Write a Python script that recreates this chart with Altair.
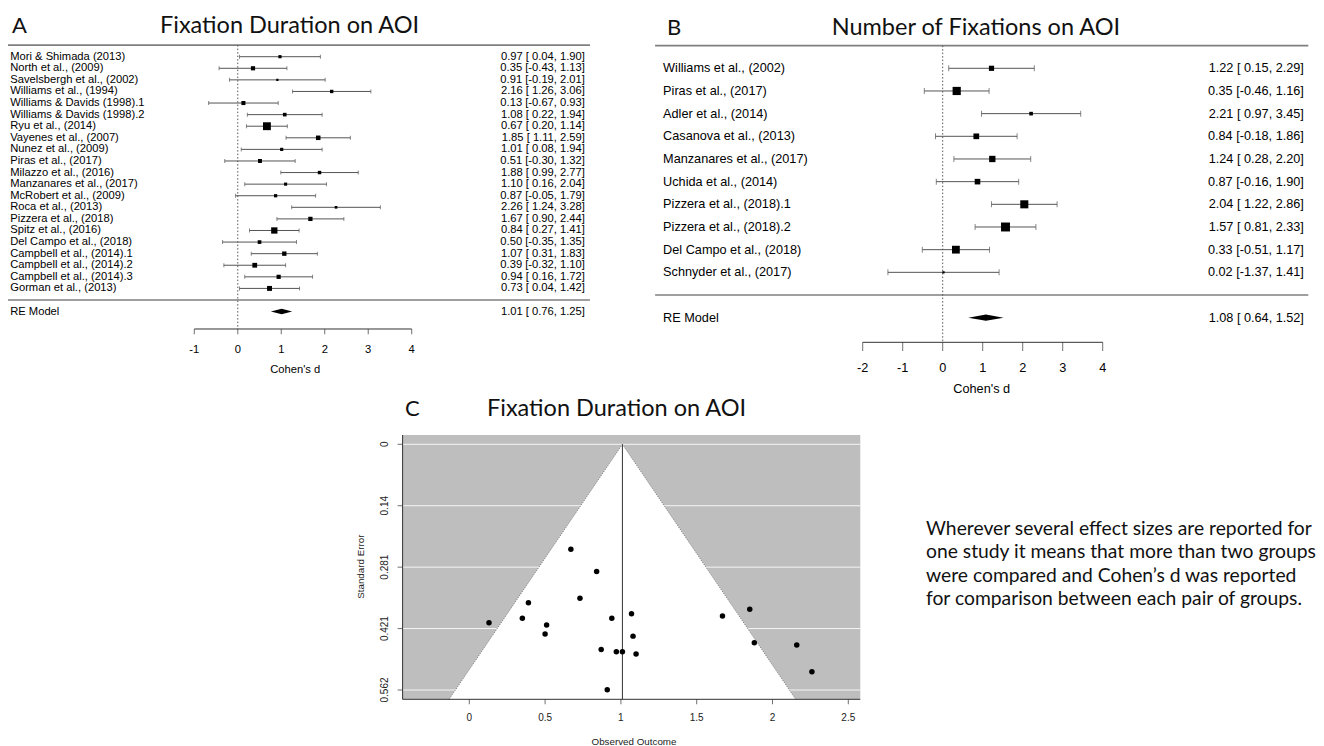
import altair as alt
import pandas as pd

SANS = "Liberation Sans"
DISP = "Lato"

# ---------------- Panel A: Fixation Duration on AOI (forest plot) ----------------
a_study = [
    "Mori & Shimada (2013)", "North et al., (2009)", "Savelsbergh et al., (2002)",
    "Williams et al., (1994)", "Williams & Davids (1998).1", "Williams & Davids (1998).2",
    "Ryu et al., (2014)", "Vayenes et al., (2007)", "Nunez et al., (2009)",
    "Piras et al., (2017)", "Milazzo et al., (2016)", "Manzanares et al., (2017)",
    "McRobert et al., (2009)", "Roca et al., (2013)", "Pizzera et al., (2018)",
    "Spitz et al., (2016)", "Del Campo et al., (2018)", "Campbell et al., (2014).1",
    "Campbell et al., (2014).2", "Campbell et al., (2014).3", "Gorman et al., (2013)",
]
a_est = [0.97, 0.35, 0.91, 2.16, 0.13, 1.08, 0.67, 1.85, 1.01, 0.51, 1.88,
         1.10, 0.87, 2.26, 1.67, 0.84, 0.50, 1.07, 0.39, 0.94, 0.73]
a_lo = [0.04, -0.43, -0.19, 1.26, -0.67, 0.22, 0.20, 1.11, 0.08, -0.30, 0.99,
        0.16, -0.05, 1.24, 0.90, 0.27, -0.35, 0.31, -0.32, 0.16, 0.04]
a_hi = [1.90, 1.13, 2.01, 3.06, 0.93, 1.94, 1.14, 2.59, 1.94, 1.32, 2.77,
        2.04, 1.79, 3.28, 2.44, 1.41, 1.35, 1.83, 1.10, 1.72, 1.42]
a_summary = [1.01, 0.76, 1.25]  # RE model: estimate, lower, upper
a_ticks = [-1, 0, 1, 2, 3, 4]

# ---------------- Panel B: Number of Fixations on AOI (forest plot) ----------------
b_study = [
    "Williams et al., (2002)", "Piras et al., (2017)", "Adler et al., (2014)",
    "Casanova et al., (2013)", "Manzanares et al., (2017)", "Uchida et al., (2014)",
    "Pizzera et al., (2018).1", "Pizzera et al., (2018).2", "Del Campo et al., (2018)",
    "Schnyder et al., (2017)",
]
b_est = [1.22, 0.35, 2.21, 0.84, 1.24, 0.87, 2.04, 1.57, 0.33, 0.02]
b_lo = [0.15, -0.46, 0.97, -0.18, 0.28, -0.16, 1.22, 0.81, -0.51, -1.37]
b_hi = [2.29, 1.16, 3.45, 1.86, 2.20, 1.90, 2.86, 2.33, 1.17, 1.41]
b_summary = [1.08, 0.64, 1.52]
b_ticks = [-2, -1, 0, 1, 2, 3, 4]

# ---------------- Panel C: funnel plot of panel A ----------------
c_xticks = [0, 0.5, 1, 1.5, 2, 2.5]
c_xlabels = ["0", "0.5", "1", "1.5", "2", "2.5"]
c_yticks = [0, 0.1405, 0.281, 0.4215, 0.562]
c_ylabels = ["0", "0.14", "0.281", "0.421", "0.562"]

note_lines = [
    "Wherever several effect sizes are reported for",
    "one study it means that more than two groups",
    "were compared and Cohen\u2019s d was reported",
    "for comparison between each pair of groups.",
]

# ---------------- scales (panel placement) ----------------
def lin(domain, rng):
    return alt.Scale(domain=domain, range=rng, nice=False, zero=False)

SXA = lin([-1, 4], [186.3, 403.7])
SYA = lin([0, 21], [292.0, 48.7])
SXB = lin([-2, 4], [854.7, 1094.7])
SYB = lin([0, 10], [287.0, 60.3])
SXC = lin([0, 2.5], [461.3, 840.3])
SYC = lin([0, 0.562], [436.3, 682.0])

P_A = dict(sx=SXA, sy=SYA, xlim=(-5.46, 8.10), label_x=-5.234, ann_x=7.984,
           axis_row=-2.503, tl=5.3, lab_dy=21, xlab_dy=41, fs=11.2, cap=4,
           dh=0.24, sizes=(5, 62))
P_B = dict(sx=SXB, sy=SYB, xlim=(-7.19, 9.14), label_x=-6.99, ann_x=9.03,
           axis_row=-2.087, tl=8.7, lab_dy=25.4, xlab_dy=46.7, fs=12.7, cap=6,
           dh=0.14, sizes=(5, 80))


def fmt(e, l, h):
    return f"{e:.2f} [{l:5.2f}, {h:.2f}]"


def forest_layers(study, est, lo, hi, summ, ticks, P):
    k = len(study)
    sx, sy = P["sx"], P["sy"]
    X = lambda f: alt.X(f, type="quantitative", scale=sx, axis=None)
    Y = lambda f: alt.Y(f, type="quantitative", scale=sy, axis=None)
    fs = P["fs"]
    ar = P["axis_row"]
    df = pd.DataFrame({"study": study, "est": est, "lo": lo, "hi": hi})
    df["row"] = list(range(k, 0, -1))
    df["w"] = (3.92 / (df["hi"] - df["lo"])) ** 2
    df["ann"] = [fmt(e, l, h) for e, l, h in zip(est, lo, hi)]
    df["lx"] = P["label_x"]
    df["ax"] = P["ann_x"]
    L = []
    hl = pd.DataFrame({"x": [P["xlim"][0]] * 2, "x2": [P["xlim"][1]] * 2, "y": [k + 1, 0]})
    L.append(alt.Chart(hl).mark_rule(color="#7f7f7f", strokeWidth=1.6)
             .encode(x=X("x"), x2="x2", y=Y("y")))
    ref = pd.DataFrame({"x": [0], "y": [k + 1], "y2": [ar]})
    L.append(alt.Chart(ref).mark_rule(color="#555555", strokeWidth=1, strokeDash=[1.5, 2])
             .encode(x=X("x"), y=Y("y"), y2="y2"))
    L.append(alt.Chart(df).mark_rule(color="#555555", strokeWidth=1)
             .encode(x=X("lo"), x2="hi", y=Y("row")))
    L.append(alt.Chart(df).transform_fold(["lo", "hi"], as_=["end", "v"])
             .mark_tick(orient="vertical", size=P["cap"], thickness=1, color="#555555")
             .encode(x=X("v"), y=Y("row")))
    L.append(alt.Chart(df).mark_square(color="black", opacity=1)
             .encode(x=X("est"), y=Y("row"),
                     size=alt.Size("w", type="quantitative",
                                   scale=alt.Scale(domain=[float(df["w"].min()), float(df["w"].max())],
                                                   range=list(P["sizes"])),
                                   legend=None)))
    L.append(alt.Chart(df).mark_text(align="left", baseline="middle", fontSize=fs, font=SANS, color="black")
             .encode(x=X("lx"), y=Y("row"), text="study"))
    L.append(alt.Chart(df).mark_text(align="right", baseline="middle", fontSize=fs, font=SANS, color="black")
             .encode(x=X("ax"), y=Y("row"), text="ann"))
    e, l, h = summ
    re = pd.DataFrame({"lab": ["RE Model"], "ann": [fmt(e, l, h)], "lx": [P["label_x"]],
                       "ax": [P["ann_x"]], "row": [-1]})
    L.append(alt.Chart(re).mark_text(align="left", baseline="middle", fontSize=fs, font=SANS, color="black")
             .encode(x=X("lx"), y=Y("row"), text="lab"))
    L.append(alt.Chart(re).mark_text(align="right", baseline="middle", fontSize=fs, font=SANS, color="black")
             .encode(x=X("ax"), y=Y("row"), text="ann"))
    dh = P["dh"]
    dm = pd.DataFrame({"x": [l, e, h], "y": [-1, -1 + dh, -1], "y2": [-1, -1 - dh, -1]})
    L.append(alt.Chart(dm).mark_area(color="black", orient="vertical", opacity=1)
             .encode(x=X("x"), y=Y("y"), y2="y2"))
    axl = pd.DataFrame({"x": [min(ticks)], "x2": [max(ticks)], "y": [ar]})
    L.append(alt.Chart(axl).mark_rule(color="#333333", strokeWidth=1)
             .encode(x=X("x"), x2="x2", y=Y("y")))
    tk = pd.DataFrame({"t": ticks, "lab": [str(t) for t in ticks], "y": [ar] * len(ticks)})
    L.append(alt.Chart(tk).mark_tick(orient="vertical", size=P["tl"], thickness=1, color="#333333",
                                     yOffset=P["tl"] / 2)
             .encode(x=X("t"), y=Y("y")))
    L.append(alt.Chart(tk).mark_text(baseline="middle", align="center", fontSize=fs, font=SANS,
                                     color="black", dy=P["lab_dy"])
             .encode(x=X("t"), y=Y("y"), text="lab"))
    xlab = pd.DataFrame({"t": ["Cohen's d"], "x": [sum(P["xlim"]) / 2], "y": [ar]})
    L.append(alt.Chart(xlab).mark_text(baseline="middle", align="center", fontSize=fs, font=SANS,
                                       color="black", dy=P["xlab_dy"])
             .encode(x=X("x"), y=Y("y"), text="t"))
    return L


def funnel_layers():
    X = lambda f: alt.X(f, type="quantitative", scale=SXC, axis=None)
    Y = lambda f: alt.Y(f, type="quantitative", scale=SYC, axis=None)
    xl, xr = -0.44, 2.579
    yt, yb = -0.0213, 0.5833
    est_c = a_summary[0]
    L = []
    bg = pd.DataFrame({"x": [xl], "x2": [xr], "y": [yt], "y2": [yb]})
    L.append(alt.Chart(bg).mark_rect(color="#BEBEBE", opacity=1)
             .encode(x=X("x"), x2="x2", y=Y("y"), y2="y2"))
    gr = pd.DataFrame({"y": c_yticks, "x": [xl] * len(c_yticks), "x2": [xr] * len(c_yticks)})
    L.append(alt.Chart(gr).mark_rule(color="white", strokeWidth=1, opacity=0.85)
             .encode(x=X("x"), x2="x2", y=Y("y")))
    tri = pd.DataFrame({"se": [0, yb]})
    tri["lo"] = est_c - 1.96 * tri["se"]
    tri["hi"] = est_c + 1.96 * tri["se"]
    L.append(alt.Chart(tri).mark_area(color="white", orient="horizontal", opacity=1)
             .encode(y=Y("se"), x=X("lo"), x2="hi"))
    edges = pd.DataFrame({"side": ["l", "l", "r", "r"],
                          "x": [est_c, est_c - 1.96 * yb, est_c, est_c + 1.96 * yb],
                          "se": [0, yb, 0, yb]})
    L.append(alt.Chart(edges).mark_line(color="#666666", strokeWidth=0.9, strokeDash=[1, 1.5])
             .encode(x=X("x"), y=Y("se"), detail="side"))
    vl = pd.DataFrame({"x": [est_c], "y": [0], "y2": [yb]})
    L.append(alt.Chart(vl).mark_rule(color="#333333", strokeWidth=1)
             .encode(x=X("x"), y=Y("y"), y2="y2"))
    pts = pd.DataFrame({"est": a_est, "lo": a_lo, "hi": a_hi})
    pts["se"] = (pts["hi"] - pts["lo"]) / 3.92
    L.append(alt.Chart(pts).mark_circle(color="black", opacity=1, size=30)
             .encode(x=X("est"), y=Y("se")))
    # axes (L-shaped frame)
    L.append(alt.Chart(pd.DataFrame({"x": [xl], "y": [yt], "y2": [yb]}))
             .mark_rule(color="#333333", strokeWidth=1).encode(x=X("x"), y=Y("y"), y2="y2"))
    L.append(alt.Chart(pd.DataFrame({"x": [xl], "x2": [xr], "y": [yb]}))
             .mark_rule(color="#333333", strokeWidth=1).encode(x=X("x"), x2="x2", y=Y("y")))
    xt = pd.DataFrame({"t": c_xticks, "lab": c_xlabels, "y": [yb] * len(c_xticks)})
    L.append(alt.Chart(xt).mark_tick(orient="vertical", size=5, thickness=1, color="#333333", yOffset=2.5)
             .encode(x=X("t"), y=Y("y")))
    L.append(alt.Chart(xt).mark_text(baseline="middle", align="center", fontSize=10, font=SANS,
                                     color="#222222", dy=19)
             .encode(x=X("t"), y=Y("y"), text="lab"))
    yt_df = pd.DataFrame({"t": c_yticks, "lab": c_ylabels, "x": [xl] * len(c_yticks)})
    L.append(alt.Chart(yt_df).mark_tick(orient="horizontal", size=5, thickness=1, color="#333333", xOffset=-2.5)
             .encode(x=X("x"), y=Y("t")))
    L.append(alt.Chart(yt_df).mark_text(baseline="middle", align="center", fontSize=10, font=SANS,
                                        color="#222222", angle=270, xOffset=-17.7)
             .encode(x=X("x"), y=Y("t"), text="lab"))
    return L


def label(txt, x, y, size, font=DISP, angle=0, align="left", baseline="alphabetic", color="#111111"):
    return alt.Chart(pd.DataFrame({"t": [txt]})).mark_text(
        align=align, baseline=baseline, fontSize=size, font=font, angle=angle, color=color
    ).encode(x=alt.value(x), y=alt.value(y), text="t")


layers = []
layers += forest_layers(a_study, a_est, a_lo, a_hi, a_summary, a_ticks, P_A)
layers += forest_layers(b_study, b_est, b_lo, b_hi, b_summary, b_ticks, P_B)
layers += funnel_layers()

layers += [
    label("A", 4, 25.3, 22),
    label("Fixation Duration on AOI", 152, 25.3, 23.5),
    label("B", 659, 26.5, 22),
    label("Number of Fixations on AOI", 823.7, 26.5, 23.5),
    label("C", 397, 407.7, 22),
    label("Fixation Duration on AOI", 479, 407.7, 23.5),
    label("Standard Error", 352.7, 558.7, 9.8, font=SANS, angle=270, align="center",
          baseline="middle", color="#222222"),
    label("Observed Outcome", 626, 733.5, 9.8, font=SANS, align="center",
          baseline="middle", color="#222222"),
]
layers.append(
    alt.Chart(pd.DataFrame({"t": [note_lines]})).mark_text(
        align="left", baseline="alphabetic", fontSize=19.3, font=DISP, lineHeight=23.4, color="#111111"
    ).encode(x=alt.value(918), y=alt.value(527), text="t")
)

chart = (
    alt.layer(*layers)
    .resolve_scale(x="independent", y="independent", size="independent")
    .properties(width=1308, height=738, autosize=alt.AutoSizeParams(type="none"),
                padding=0, background="white")
    .configure_view(stroke=None)
)

chart.save("out.html", embed_options={"renderer": "svg", "actions": False})
